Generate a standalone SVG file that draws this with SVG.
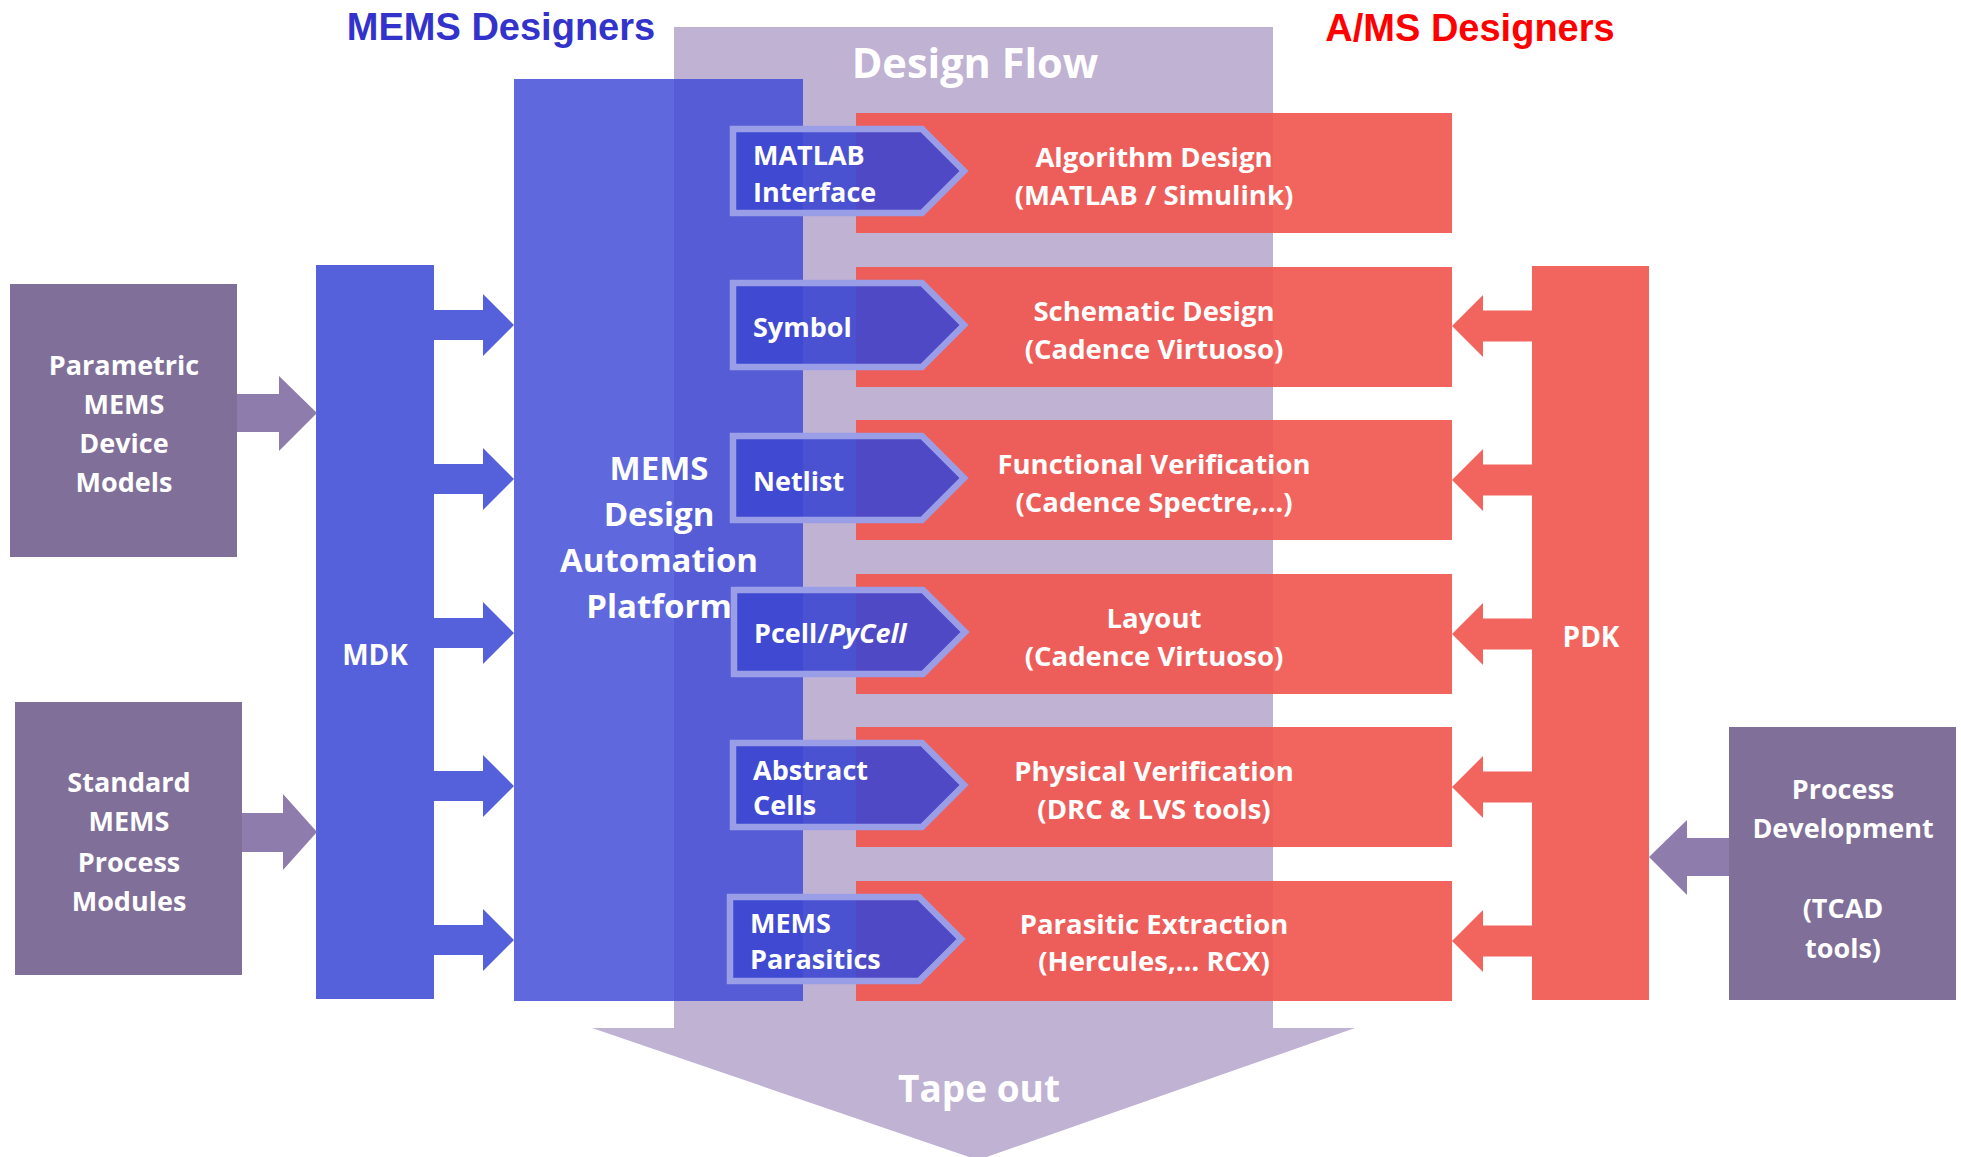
<svg xmlns="http://www.w3.org/2000/svg" xmlns:xlink="http://www.w3.org/1999/xlink" width="1961" height="1157" viewBox="0 0 1961 1157">
  <style>
    .t { font-family: "Open Sans", "DejaVu Sans", sans-serif; font-weight: 700; fill: #ffffff; }
    .c { text-anchor: middle; }
    .hdr { font-family: "Liberation Sans", Arial, sans-serif; font-weight: 700; font-size: 38px; text-anchor: middle; }
    .flow { fill: #c0b2d3; }
    .src { fill: #806f99; }
    .src-arrow { fill: #8e7cad; }
    .kit { fill: #5561da; }
    .platform { fill: #3f4ad6; fill-opacity: 0.83; }
    .step { fill: #f1564e; fill-opacity: 0.91; }
    .pdk { fill: #f2655e; }
    .tag { fill: #3d47d2; fill-opacity: 0.9; stroke: #9a9ee6; stroke-width: 6.5; }
    .row { font-size: 27.5px; }
    .lbl { font-size: 27px; }
    .side { font-size: 27px; }
  </style>
  <defs>
    <!-- block arrow pointing right, tip at origin -->
    <polygon id="arrow-r" points="-80,-15 -31,-15 -31,-31 0,0 -31,31 -31,15 -80,15"/>
    <!-- block arrow pointing left, tip at origin -->
    <polygon id="arrow-l" points="80,-15.5 31,-15.5 31,-31 0,0 31,31 31,15.5 80,15.5"/>
    <!-- pentagon tag outline -->
    <path id="tag-shape" d="M0,0 H189 L231,42 L189,84 H0 Z"/>
  </defs>

  <!-- titles -->
  <g id="title-mems">
    <text class="hdr" x="501" y="40" fill="#3333cc">MEMS Designers</text>
  </g>
  <g id="title-ams">
    <text class="hdr" x="1470" y="41" fill="#ff0000">A/MS Designers</text>
  </g>

  <!-- design flow backdrop arrow -->
  <g id="design-flow">
    <polygon class="flow" points="674,27 1273,27 1273,1028 1355,1028 978,1160 592,1028 674,1028"/>
    <text class="t c" x="975" y="78" font-size="41.5">Design Flow</text>
    <text class="t c" x="979" y="1102" font-size="37">Tape out</text>
  </g>

  <!-- sources -->
  <g id="parametric-models">
    <rect class="src" x="10" y="284" width="227" height="273"/>
    <text class="t c side" x="124" y="375">Parametric</text>
    <text class="t c side" x="124" y="414">MEMS</text>
    <text class="t c side" x="124" y="453">Device</text>
    <text class="t c side" x="124" y="492">Models</text>
  </g>
  <g id="process-modules">
    <rect class="src" x="15" y="702" width="227" height="273"/>
    <text class="t c side" x="129" y="792">Standard</text>
    <text class="t c side" x="129" y="831">MEMS</text>
    <text class="t c side" x="129" y="872">Process</text>
    <text class="t c side" x="129" y="911">Modules</text>
  </g>
  <g id="process-development">
    <rect class="src" x="1729" y="727" width="227" height="273"/>
    <text class="t c side" x="1843" y="799">Process</text>
    <text class="t c side" x="1843" y="838">Development</text>
    <text class="t c side" x="1843" y="918">(TCAD</text>
    <text class="t c side" x="1843" y="958">tools)</text>
  </g>

  <!-- kits -->
  <g id="mdk">
    <rect class="kit" x="316" y="265" width="118" height="734"/>
    <text class="t c" x="375" y="665" font-size="28">MDK</text>
  </g>
  <g id="pdk">
    <rect class="pdk" x="1532" y="266" width="117" height="734"/>
    <text class="t c" x="1591" y="647" font-size="28">PDK</text>
  </g>

  <!-- platform -->
  <g id="platform">
    <rect class="platform" x="514" y="79" width="289" height="922"/>
    <text class="t c" x="659" y="480" font-size="33">MEMS</text>
    <text class="t c" x="659" y="526" font-size="33">Design</text>
    <text class="t c" x="659" y="572" font-size="33">Automation</text>
    <text class="t c" x="659" y="618" font-size="33">Platform</text>
  </g>

  <!-- flow steps -->
  <g id="step-algorithm">
    <rect class="step" x="856" y="113" width="596" height="120"/>
    <text class="t c row" x="1154" y="167">Algorithm Design</text>
    <text class="t c row" x="1154" y="205">(MATLAB / Simulink)</text>
  </g>
  <g id="step-schematic">
    <rect class="step" x="856" y="267" width="596" height="120"/>
    <text class="t c row" x="1154" y="321">Schematic Design</text>
    <text class="t c row" x="1154" y="359">(Cadence Virtuoso)</text>
  </g>
  <g id="step-functional">
    <rect class="step" x="856" y="420" width="596" height="120"/>
    <text class="t c row" x="1154" y="474">Functional Verification</text>
    <text class="t c row" x="1154" y="512">(Cadence Spectre,…)</text>
  </g>
  <g id="step-layout">
    <rect class="step" x="856" y="574" width="596" height="120"/>
    <text class="t c row" x="1154" y="628">Layout</text>
    <text class="t c row" x="1154" y="666">(Cadence Virtuoso)</text>
  </g>
  <g id="step-physical">
    <rect class="step" x="856" y="727" width="596" height="120"/>
    <text class="t c row" x="1154" y="781">Physical Verification</text>
    <text class="t c row" x="1154" y="819">(DRC &amp; LVS tools)</text>
  </g>
  <g id="step-parasitic">
    <rect class="step" x="856" y="881" width="596" height="120"/>
    <text class="t c row" x="1154" y="934">Parasitic Extraction</text>
    <text class="t c row" x="1154" y="971">(Hercules,… RCX)</text>
  </g>

  <!-- platform deliverables -->
  <g id="tag-matlab">
    <use xlink:href="#tag-shape" class="tag" transform="translate(733,129)"/>
    <text class="t lbl" x="753" y="165">MATLAB</text>
    <text class="t lbl" x="753" y="202">Interface</text>
  </g>
  <g id="tag-symbol">
    <use xlink:href="#tag-shape" class="tag" transform="translate(733,283)"/>
    <text class="t lbl" x="753" y="337">Symbol</text>
  </g>
  <g id="tag-netlist">
    <use xlink:href="#tag-shape" class="tag" transform="translate(733,436)"/>
    <text class="t lbl" x="753" y="491">Netlist</text>
  </g>
  <g id="tag-pcell">
    <use xlink:href="#tag-shape" class="tag" transform="translate(734,590)"/>
    <text class="t lbl" x="754" y="643">Pcell/<tspan font-style="italic">PyCell</tspan></text>
  </g>
  <g id="tag-abstract">
    <use xlink:href="#tag-shape" class="tag" transform="translate(733,743)"/>
    <text class="t lbl" x="753" y="780">Abstract</text>
    <text class="t lbl" x="753" y="815">Cells</text>
  </g>
  <g id="tag-parasitics">
    <use xlink:href="#tag-shape" class="tag" transform="translate(730,897)"/>
    <text class="t lbl" x="750" y="933">MEMS</text>
    <text class="t lbl" x="750" y="969">Parasitics</text>
  </g>

  <!-- connectors -->
  <g id="connectors">
    <!-- MDK to platform -->
    <use xlink:href="#arrow-r" class="kit" transform="translate(514,325)"/>
    <use xlink:href="#arrow-r" class="kit" transform="translate(514,479)"/>
    <use xlink:href="#arrow-r" class="kit" transform="translate(514,633)"/>
    <use xlink:href="#arrow-r" class="kit" transform="translate(514,786)"/>
    <use xlink:href="#arrow-r" class="kit" transform="translate(514,940)"/>
    <!-- PDK to flow steps -->
    <use xlink:href="#arrow-l" class="pdk" transform="translate(1452,326)"/>
    <use xlink:href="#arrow-l" class="pdk" transform="translate(1452,480)"/>
    <use xlink:href="#arrow-l" class="pdk" transform="translate(1452,634)"/>
    <use xlink:href="#arrow-l" class="pdk" transform="translate(1452,787)"/>
    <use xlink:href="#arrow-l" class="pdk" transform="translate(1452,941)"/>
    <!-- sources to kits -->
    <polygon class="src-arrow" points="237,394 279,394 279,376 317,413 279,451 279,432 237,432"/>
    <polygon class="src-arrow" points="242,813 283,813 283,794 317,832 283,870 283,852 242,852"/>
    <polygon class="src-arrow" points="1729,838 1687,838 1687,820 1649,857 1687,895 1687,876 1729,876"/>
  </g>
</svg>
